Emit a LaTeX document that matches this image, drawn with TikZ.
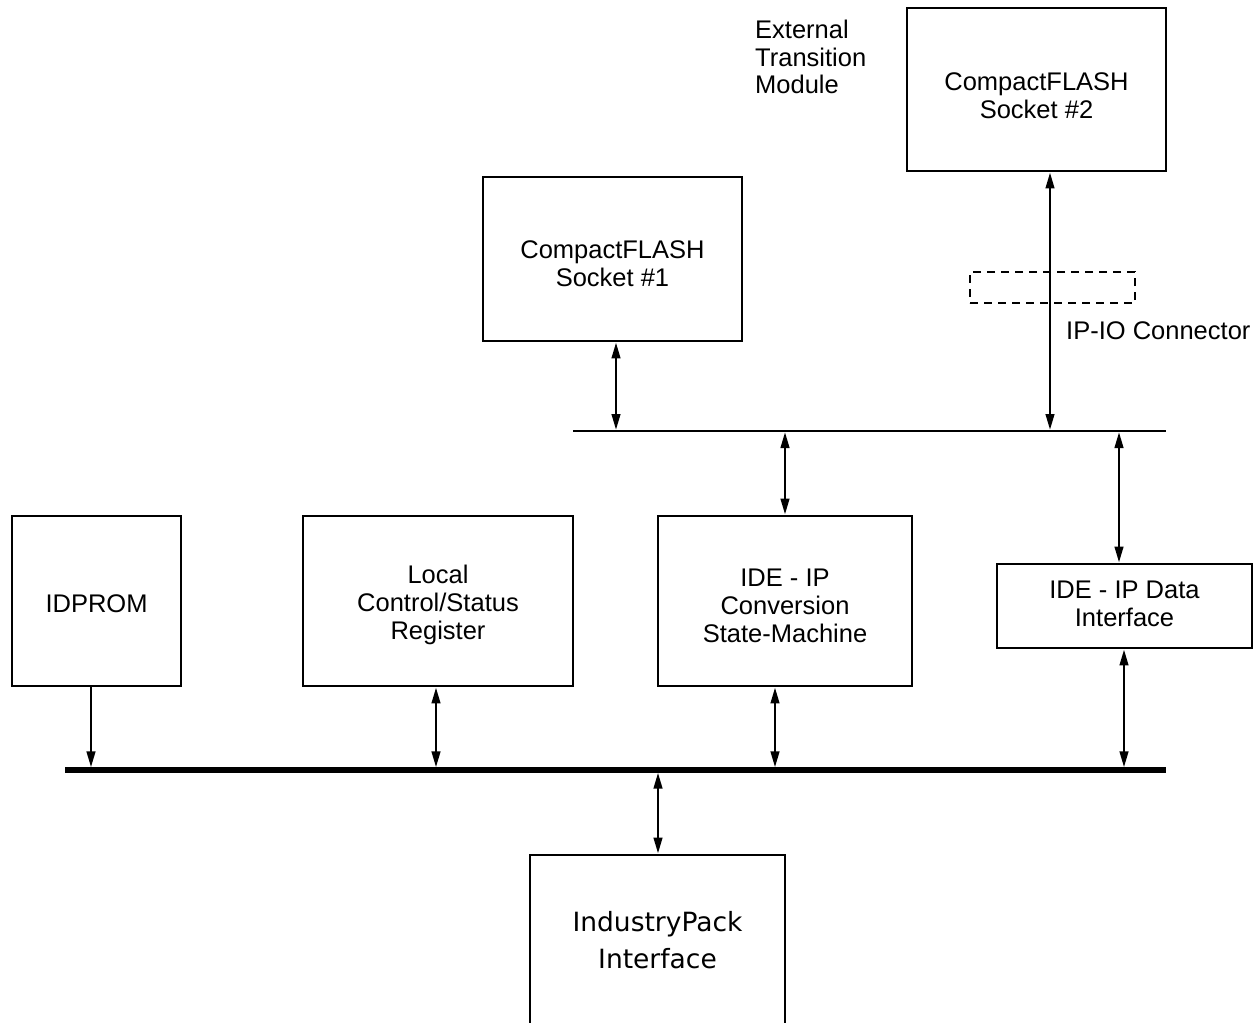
\documentclass[tikz,border=0pt]{standalone}
\usepackage{fontspec}
\setmainfont{Liberation Sans}
\newfontfamily\ipfont{DejaVu Sans}
\usetikzlibrary{arrows.meta}
\begin{document}
\begin{tikzpicture}[x=1pt,y=-1pt,
 box/.style={draw,line width=2.8pt,inner sep=0pt},
 txt/.style={inner sep=0pt,align=center,font=\fontsize{25.5}{28}\selectfont},
 lbl/.style={inner sep=0pt,align=left,font=\fontsize{25.5}{27.5}\selectfont},
 conn/.style={draw,line width=2pt,dash pattern=on 8pt off 6pt,inner sep=0pt},
 tip/.tip={Triangle[length=16pt,width=8.5pt]},
 bi/.style={line width=2.6pt,tip-tip},
 uni/.style={line width=2.6pt,-tip},
 bus/.style={line width=2.8pt},
 thickbus/.style={line width=5.3pt}]
\clip (0,0) rectangle (1256,1023);
% boxes
\node[box,minimum width=259pt,minimum height=163pt,label={[txt,yshift=-6pt]center:CompactFLASH\\Socket \#2}] (cf2) at (1036.5,89.5) {};
\node[lbl,anchor=north west] (etm) at (755,20) {External\\Transition\\Module};
\node[box,minimum width=259pt,minimum height=164pt,label={[txt,yshift=-5pt]center:CompactFLASH\\Socket \#1}] (cf1) at (612.5,259) {};
\node[conn,minimum width=165pt,minimum height=31pt] (ioc) at (1052.5,287.5) {};
\node[lbl,anchor=west] (iocl) at (1066,331) {IP-IO Connector};
\node[box,minimum width=169pt,minimum height=170pt,label={[txt,yshift=-2.5pt]center:IDPROM}] (idprom) at (96.5,601) {};
\node[box,minimum width=270pt,minimum height=170pt,label={[txt,yshift=-4pt]center:Local\\Control/Status\\Register}] (local) at (438,601) {};
\node[box,minimum width=254pt,minimum height=170pt,label={[txt,yshift=-5pt]center:IDE - IP\\Conversion\\State-Machine}] (conv) at (785,601) {};
\node[box,minimum width=255pt,minimum height=84pt,label={[txt,yshift=2.5pt]center:IDE - IP Data\\Interface}] (data) at (1124.5,606) {};
\node[box,minimum width=255pt,minimum height=170pt,label={[txt,font=\ipfont\fontsize{26.5}{37}\selectfont]center:IndustryPack\\Interface}] (ip) at (657.5,940) {};
% buses
\coordinate (ubL) at (573,431); \coordinate (ubR) at (1166,431);
\draw[bus] (ubL) -- (ubR);
\coordinate (lbL) at (65,770); \coordinate (lbR) at (1166,770);
\draw[thickbus] (lbL) -- (lbR);
% upper bus connectors
\coordinate (u1) at (616,431); \draw[bi,shorten >=1pt] (u1 |- cf1.south) -- (u1);
\coordinate (u2) at (1050,431); \draw[bi,shorten >=1pt] (u2 |- cf2.south) -- (u2);
\coordinate (u3) at (785,431); \draw[bi,shorten <=1pt] (u3) -- (u3 |- conv.north);
\coordinate (u4) at (1119,431); \draw[bi,shorten <=1pt] (u4) -- (u4 |- data.north);
% lower bus connectors
\coordinate (l1) at (91,770); \draw[uni,shorten >=2.6pt] (l1 |- idprom.south) -- (l1);
\coordinate (l2) at (436,770); \draw[bi,shorten >=2.6pt] (l2 |- local.south) -- (l2);
\coordinate (l3) at (775,770); \draw[bi,shorten >=2.6pt] (l3 |- conv.south) -- (l3);
\coordinate (l4) at (1124,770); \draw[bi,shorten >=2.6pt] (l4 |- data.south) -- (l4);
\coordinate (l5) at (658,770); \draw[bi,shorten <=2.6pt] (l5) -- (l5 |- ip.north);
\end{tikzpicture}
\end{document}
